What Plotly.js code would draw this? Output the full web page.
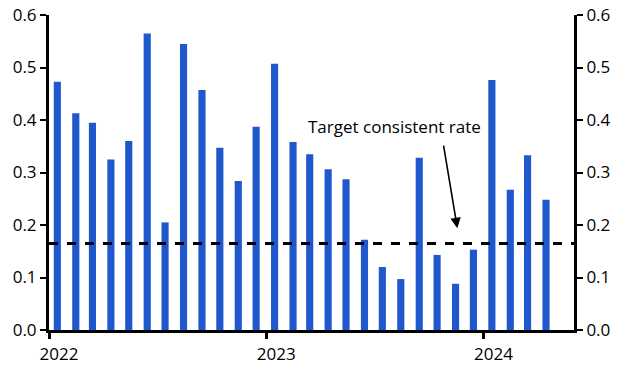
<!DOCTYPE html>
<html>
<head>
<meta charset="utf-8">
<script src="https://cdn.plot.ly/plotly-3.0.1.min.js"></script>
<style>html,body{margin:0;padding:0;background:#fff;}#chart{width:626px;height:378px;}</style>
</head>
<body>
<div id="chart"></div>
<script>
const months = ['2022-01-15','2022-02-15','2022-03-15','2022-04-15','2022-05-15','2022-06-15','2022-07-15','2022-08-15','2022-09-15','2022-10-15','2022-11-15','2022-12-15',
 '2023-01-15','2023-02-15','2023-03-15','2023-04-15','2023-05-15','2023-06-15','2023-07-15','2023-08-15','2023-09-15','2023-10-15','2023-11-15','2023-12-15',
 '2024-01-15','2024-02-15','2024-03-15','2024-04-15'];
const values = [0.473,0.413,0.395,0.325,0.360,0.565,0.205,0.545,0.457,0.347,0.284,0.387,
 0.507,0.358,0.335,0.306,0.287,0.172,0.120,0.097,0.328,0.143,0.088,0.153,
 0.476,0.267,0.333,0.248];
const targetRate = 0.165;
const yTicks = [0,0.1,0.2,0.3,0.4,0.5,0.6];
const yTickText = ['0.0','0.1','0.2','0.3','0.4','0.5','0.6'];
const xTicks = ['2022-01-01','2023-01-01','2024-01-01'];
const xTickText = ['2022','2023','2024'];
const xRange = ['2022-01-01','2024-06-01'];
const annotationText = 'Target consistent rate';

const font = {family:'Open Sans, sans-serif', size:17, color:'#000'};
const yax = {
  range:[0,0.6], tickvals:yTicks, ticktext:yTickText, ticks:'outside', ticklen:6, tickwidth:2,
  tickcolor:'#000', showline:true, linewidth:3, linecolor:'#000', showgrid:false, zeroline:false,
  fixedrange:true, tickfont:font
};
const data = [
  {type:'bar', x:months, y:values, marker:{color:'#1f58cd'}, width:12*86400000, hoverinfo:'skip'},
  {type:'scatter', x:[months[0]], y:[targetRate], yaxis:'y2', mode:'markers', marker:{opacity:0}, hoverinfo:'skip', showlegend:false}
];
const layout = {
  width:626, height:378, margin:{l:49, r:52, t:15, b:48},
  paper_bgcolor:'#fff', plot_bgcolor:'#fff', showlegend:false, font:font,
  xaxis:{type:'date', range:xRange, tickvals:xTicks, ticktext:xTickText, ticks:'outside', ticklen:6, tickwidth:3,
    tickcolor:'#000', showline:true, linewidth:3, linecolor:'#000', showgrid:false, zeroline:false,
    tickfont:font, ticklabelshift:10, ticklabelstandoff:1},
  yaxis:Object.assign({}, yax, {side:'left'}),
  yaxis2:Object.assign({}, yax, {side:'right', overlaying:'y'}),
  shapes:[{type:'line', xref:'paper', x0:0, x1:1, yref:'y', y0:targetRate, y1:targetRate,
    line:{color:'#000', width:3, dash:'dash'}}],
  annotations:[{x:'2023-11-18', y:0.194, xref:'x', yref:'y', ax:-14, ay:-84,
    text:'', showarrow:true, arrowhead:2, arrowsize:1.3, arrowwidth:1.6, arrowcolor:'#000'},
    {x:'2023-08-04', y:0.387, xref:'x', yref:'y', text:annotationText, showarrow:false, font:font}]
};
Plotly.newPlot('chart', data, layout, {staticPlot:true});
</script>
</body>
</html>
